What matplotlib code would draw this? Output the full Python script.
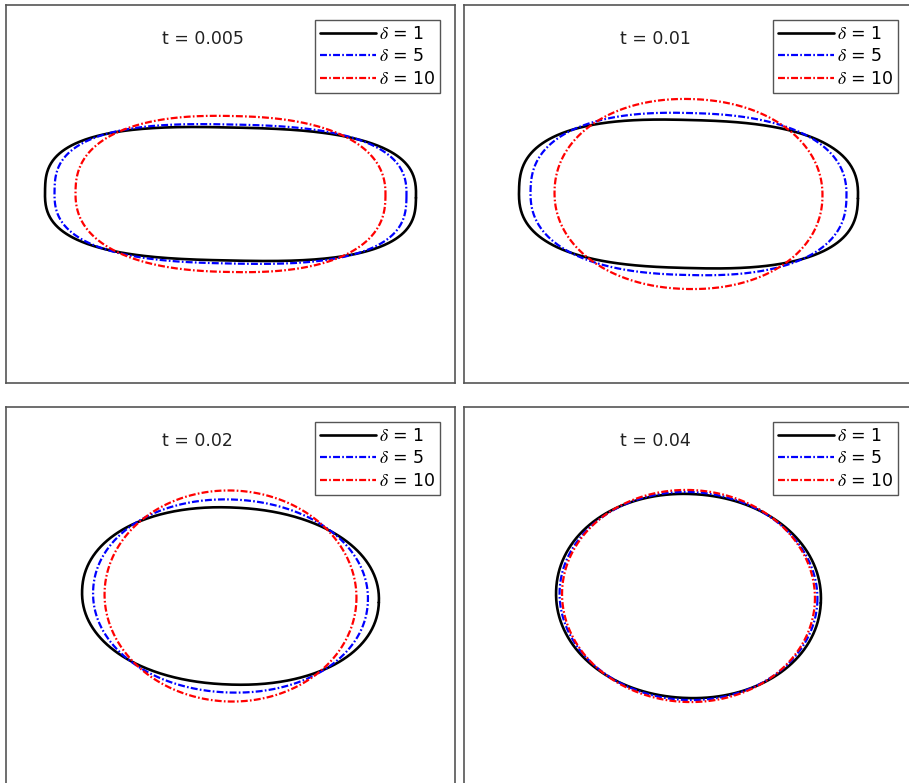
#!/usr/bin/env python3

import matplotlib
matplotlib.use("Agg")
import matplotlib.pyplot as plt
import numpy as np

plt.rcParams['font.family'] = ['DejaVu Sans']
plt.rcParams['mathtext.fontset'] = 'stix'
plt.rcParams['lines.scale_dashes'] = False

# drop shape at each time, one column per delta
times = ["0.005", "0.01", "0.02", "0.04"]
deltas = [1, 5, 10]
colors = ["black", "blue", "red"]

# half axes of each drop (rows: times, cols: deltas)
half_width = [[1.855, 1.76, 1.55],
              [1.695, 1.58, 1.34],
              [1.485, 1.375, 1.26],
              [1.325, 1.29, 1.265]]
half_height = [[0.665, 0.695, 0.78],
               [0.74, 0.81, 0.95],
               [0.885, 0.965, 1.055],
               [1.02, 1.04, 1.06]]
# squareness of the outline (2 = ellipse)
exponent = [[2.8, 2.7, 2.4],
            [2.6, 2.4, 2.1],
            [2.12, 2.05, 2.0],
            [2.05, 2.0, 2.0]]
# tilt of the long axis in degrees
tilt = [-1.2, -1.5, -2.5, -3.0]

DASHDOT = (0, (5.0, 1.6, 1.2, 1.6))


def outline(a, b, n, angle_deg, npts=600):
    t = np.linspace(0, 2 * np.pi, npts)
    c, s = np.cos(t), np.sin(t)
    x = a * np.sign(c) * np.abs(c) ** (2.0 / n)
    y = b * np.sign(s) * np.abs(s) ** (2.0 / n)
    th = np.deg2rad(angle_deg)
    xr = x * np.cos(th) - y * np.sin(th)
    yr = x * np.sin(th) + y * np.cos(th)
    return xr, yr


def _main():
    W, H = 909, 783
    fig = plt.figure(figsize=(W / 100, H / 100), dpi=100)
    # panel corners in pixels (left, top); the right and bottom ones run off the page
    corners = [(6, 5), (464, 5), (6, 407), (464, 407)]
    pw, ph = 449, 378
    for k, (x0, y0) in enumerate(corners):
        ax = fig.add_axes([x0 / W, 1 - (y0 + ph) / H, pw / W, ph / H])
        for j, d in enumerate(deltas):
            x, y = outline(half_width[k][j], half_height[k][j], exponent[k][j], tilt[k])
            if j == 0:
                ax.plot(x, y, color=colors[j], lw=1.9, solid_capstyle="round",
                        label=rf"$\delta$ = {d}")
            else:
                ax.plot(x, y, color=colors[j], lw=1.6, linestyle=DASHDOT,
                        label=rf"$\delta$ = {d}")
        ax.set_xlim(-pw / 200, pw / 200)
        ax.set_ylim(-ph / 200, ph / 200)
        ax.set_xticks([])
        ax.set_yticks([])
        for sp in ax.spines.values():
            sp.set_color("#555555")
            sp.set_linewidth(1.2)
        ax.text(0.347, 0.91, f"t = {times[k]}", transform=ax.transAxes,
                ha="left", va="center", fontsize=12.5, color="#222222")
        leg = ax.legend(loc="upper right", fontsize=12.5, handlelength=3.2,
                        handletextpad=0.15, labelspacing=0.25, borderpad=0.3,
                        borderaxespad=0.85, fancybox=False, framealpha=1)
        leg.get_frame().set_edgecolor("#555555")
        leg.get_frame().set_linewidth(1.0)
    fig.savefig("out.png", dpi=100)


if __name__ == '__main__':
    _main()
